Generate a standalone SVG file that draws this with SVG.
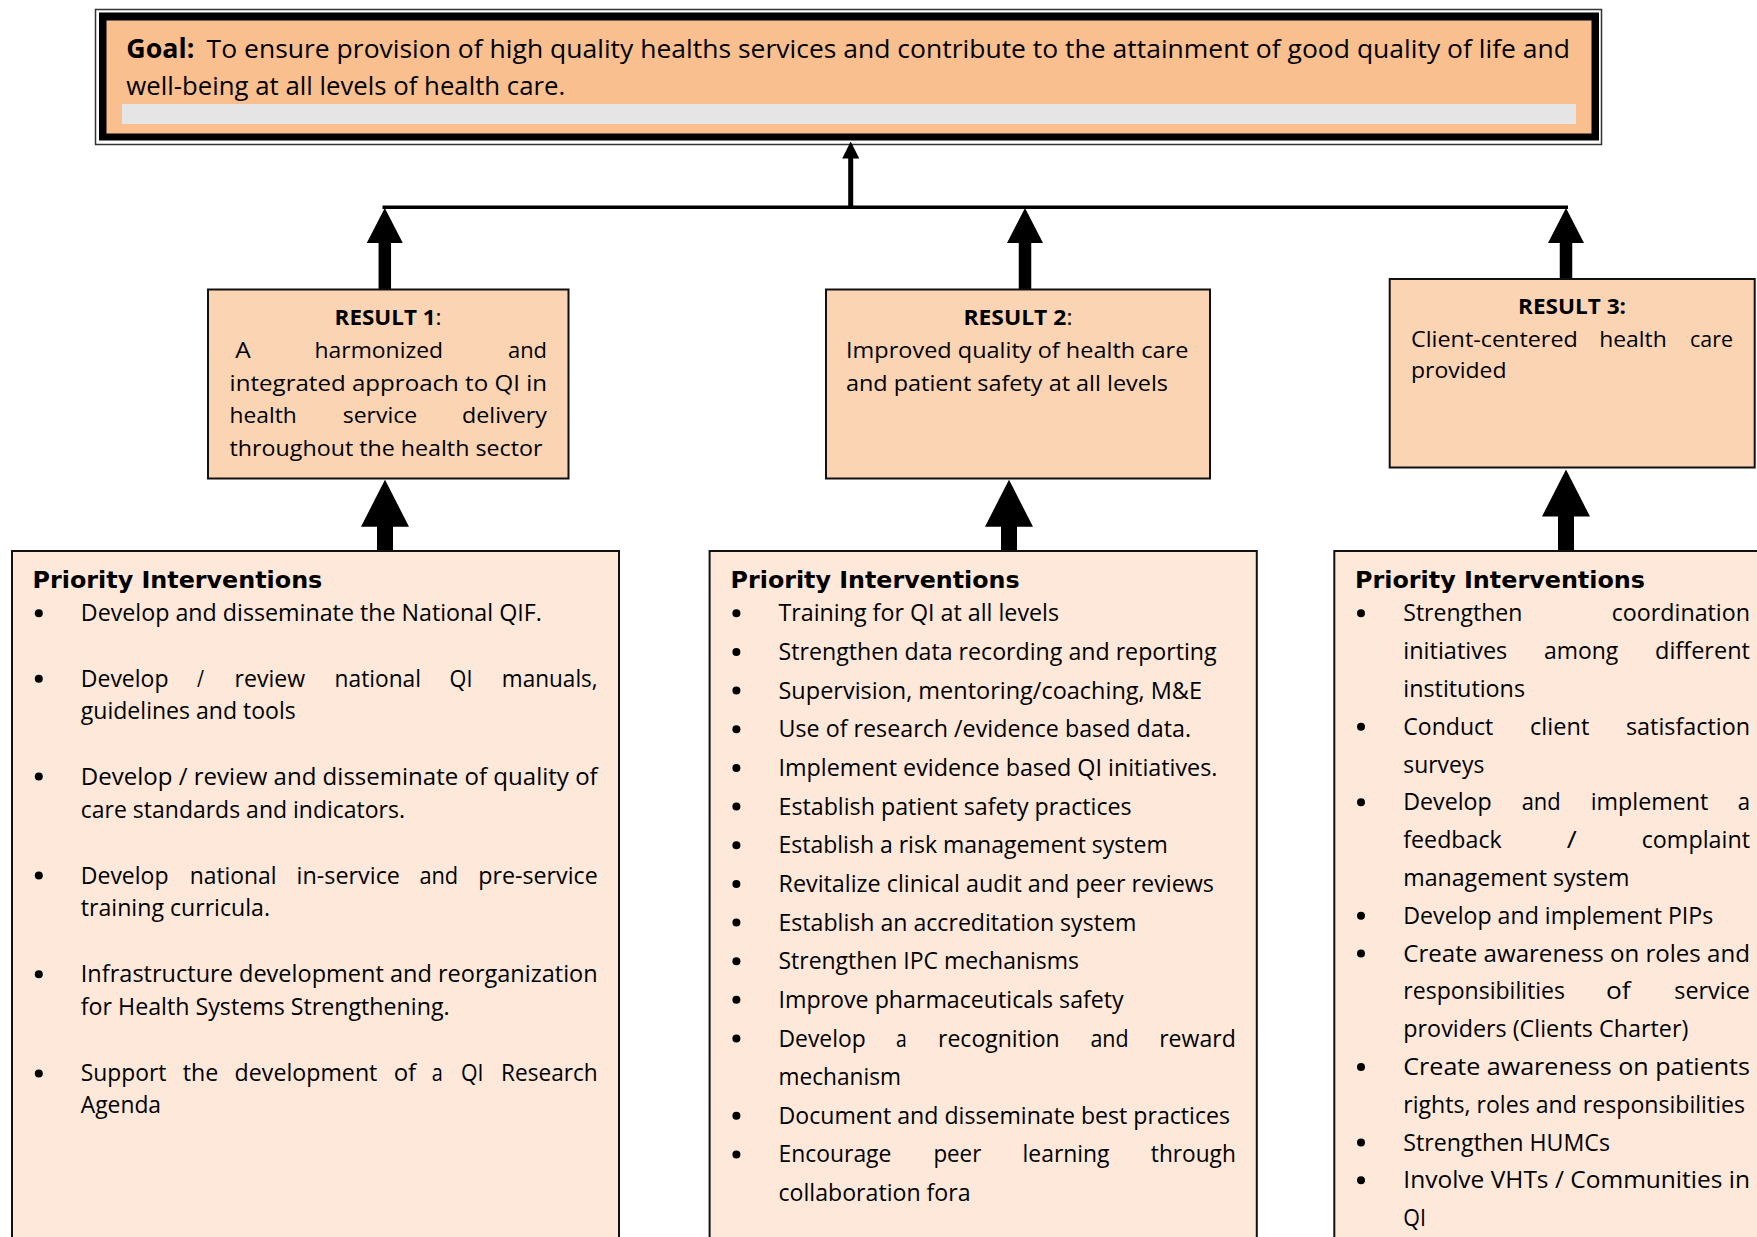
<svg xmlns="http://www.w3.org/2000/svg" width="1757" height="1237" viewBox="0 0 1757 1237">
<style>
text{font-family:"Open Sans","Liberation Sans",sans-serif;fill:#000}
.g{font-size:26px}
.r{font-size:22px}
.p{font-size:23px}
.b{font-weight:bold}
.hd{font-family:"DejaVu Sans","Liberation Sans",sans-serif;font-weight:bold;font-size:23px}
.res{fill:#FBD4B4;stroke:#111;stroke-width:2}
.pri{fill:#FDE8D9;stroke:#111;stroke-width:2}
.dot{fill:#000}
.sh{stroke:#000;fill:none}
</style>
<defs>
<marker id="hBig" markerUnits="userSpaceOnUse" markerWidth="47" markerHeight="48" viewBox="0 0 47 48" refX="1" refY="24" orient="auto"><path d="M0,0 L47,24 L0,48 z" fill="#000"/></marker>
<marker id="hMid" markerUnits="userSpaceOnUse" markerWidth="35" markerHeight="36" viewBox="0 0 35 36" refX="1" refY="18" orient="auto"><path d="M0,0 L35,18 L0,36 z" fill="#000"/></marker>
<marker id="hSm" markerUnits="userSpaceOnUse" markerWidth="17" markerHeight="17" viewBox="0 0 17 17" refX="1" refY="8.5" orient="auto"><path d="M0,0 L17,8.5 L0,17 z" fill="#000"/></marker>
</defs>
<rect width="1757" height="1237" fill="#fff"/>

<g id="goal">
<rect x="95.5" y="9.5" width="1506" height="135" fill="#fff" stroke="#333" stroke-width="1.5"/>
<rect x="99" y="12.5" width="1500" height="128" fill="#000"/>
<rect x="106.5" y="20.5" width="1485" height="113" fill="#F9BF8F"/>
<rect x="122" y="104" width="1454" height="20" fill="#E5E5E5"/>
<text class="g" y="58.3"><tspan x="126.3" class="b" textLength="68" lengthAdjust="spacingAndGlyphs">Goal:</tspan> <tspan x="206.6" textLength="1363.4" lengthAdjust="spacingAndGlyphs">To ensure provision of high quality healths services and contribute to the attainment of good quality of life and</tspan></text>
<text class="g" x="126.3" y="95" textLength="439" lengthAdjust="spacingAndGlyphs">well-being at all levels of health care.</text>
</g>

<g id="connectors">
<line class="sh" x1="382.5" y1="207.3" x2="1568" y2="207.3" stroke-width="3.5"/>
<line class="sh" x1="850.7" y1="207.3" x2="850.7" y2="157.5" stroke-width="5" marker-end="url(#hSm)"/>
<line class="sh" x1="384.8" y1="290" x2="384.8" y2="242" stroke-width="12.5" marker-end="url(#hMid)"/>
<line class="sh" x1="1025" y1="290" x2="1025" y2="242" stroke-width="12.5" marker-end="url(#hMid)"/>
<line class="sh" x1="1566" y1="279" x2="1566" y2="242" stroke-width="12.5" marker-end="url(#hMid)"/>
<line class="sh" x1="385" y1="551" x2="385" y2="525.7" stroke-width="16" marker-end="url(#hBig)"/>
<line class="sh" x1="1009" y1="551" x2="1009" y2="525.7" stroke-width="16" marker-end="url(#hBig)"/>
<line class="sh" x1="1566" y1="551" x2="1566" y2="515.5" stroke-width="16" marker-end="url(#hBig)"/>
</g>

<g id="result1">
<rect class="res" x="208" y="289.5" width="360.5" height="189"/>
<text class="r" y="325"><tspan x="334.6" class="b" textLength="101" lengthAdjust="spacingAndGlyphs">RESULT 1</tspan><tspan textLength="6" lengthAdjust="spacingAndGlyphs">:</tspan></text>
<text class="r" y="358.3"><tspan x="235.3" textLength="15.5" lengthAdjust="spacingAndGlyphs">A</tspan> <tspan x="314.6" textLength="128.4" lengthAdjust="spacingAndGlyphs">harmonized</tspan> <tspan x="508" textLength="39" lengthAdjust="spacingAndGlyphs">and</tspan></text>
<text class="r" x="229.6" y="390.5" textLength="317.4" lengthAdjust="spacingAndGlyphs">integrated approach to QI in</text>
<text class="r" y="423"><tspan x="229.6" textLength="67.2" lengthAdjust="spacingAndGlyphs">health</tspan> <tspan x="342.7" textLength="74.6" lengthAdjust="spacingAndGlyphs">service</tspan> <tspan x="462" textLength="85" lengthAdjust="spacingAndGlyphs">delivery</tspan></text>
<text class="r" x="229.6" y="455.5" textLength="312.8" lengthAdjust="spacingAndGlyphs">throughout the health sector</text>
</g>

<g id="result2">
<rect class="res" x="826" y="289.5" width="384" height="189"/>
<text class="r" y="325"><tspan x="963.4" class="b" textLength="103" lengthAdjust="spacingAndGlyphs">RESULT 2</tspan><tspan textLength="6" lengthAdjust="spacingAndGlyphs">:</tspan></text>
<text class="r" x="846" y="358.3" textLength="342.4" lengthAdjust="spacingAndGlyphs">Improved quality of health care</text>
<text class="r" x="846" y="390.5" textLength="322" lengthAdjust="spacingAndGlyphs">and patient safety at all levels</text>
</g>

<g id="result3">
<rect class="res" x="1389.7" y="279" width="365" height="188.5"/>
<text class="r b" x="1518" y="314.3" textLength="108" lengthAdjust="spacingAndGlyphs">RESULT 3:</text>
<text class="r" y="346.7"><tspan x="1411" textLength="166.8" lengthAdjust="spacingAndGlyphs">Client-centered</tspan> <tspan x="1599.2" textLength="67.6" lengthAdjust="spacingAndGlyphs">health</tspan> <tspan x="1690" textLength="43" lengthAdjust="spacingAndGlyphs">care</tspan></text>
<text class="r" x="1411" y="378.3" textLength="95.6" lengthAdjust="spacingAndGlyphs">provided</text>
</g>

<g id="priority1">
<rect class="pri" x="12" y="551" width="607" height="700"/>
<text class="hd" x="32.6" y="587.6" textLength="289.7" lengthAdjust="spacingAndGlyphs">Priority Interventions</text>
<circle class="dot" cx="38.8" cy="613.3" r="4"/>
<text class="p" x="80.8" y="621.3" textLength="461" lengthAdjust="spacingAndGlyphs">Develop and disseminate the National QIF.</text>
<circle class="dot" cx="38.8" cy="678.7" r="4"/>
<text class="p" y="686.7"><tspan x="80.8" textLength="87.7" lengthAdjust="spacingAndGlyphs">Develop</tspan> <tspan x="197" textLength="7" lengthAdjust="spacingAndGlyphs">/</tspan> <tspan x="234.6" textLength="70.6" lengthAdjust="spacingAndGlyphs">review</tspan> <tspan x="334.6" textLength="86.4" lengthAdjust="spacingAndGlyphs">national</tspan> <tspan x="449.6" textLength="22.9" lengthAdjust="spacingAndGlyphs">QI</tspan> <tspan x="501.8" textLength="95.9" lengthAdjust="spacingAndGlyphs">manuals,</tspan></text>
<text class="p" x="80.8" y="719" textLength="215" lengthAdjust="spacingAndGlyphs">guidelines and tools</text>
<circle class="dot" cx="38.8" cy="776.5" r="4"/>
<text class="p" x="80.8" y="784.5" textLength="516.9" lengthAdjust="spacingAndGlyphs">Develop / review and disseminate of quality of</text>
<text class="p" x="80.8" y="817.8" textLength="324.2" lengthAdjust="spacingAndGlyphs">care standards and indicators.</text>
<circle class="dot" cx="38.8" cy="875.6" r="4"/>
<text class="p" y="883.6"><tspan x="80.8" textLength="87.7" lengthAdjust="spacingAndGlyphs">Develop</tspan> <tspan x="189.7" textLength="86.9" lengthAdjust="spacingAndGlyphs">national</tspan> <tspan x="296.6" textLength="103.4" lengthAdjust="spacingAndGlyphs">in-service</tspan> <tspan x="419.4" textLength="38.8" lengthAdjust="spacingAndGlyphs">and</tspan> <tspan x="478.2" textLength="119.5" lengthAdjust="spacingAndGlyphs">pre-service</tspan></text>
<text class="p" x="80.8" y="915.6" textLength="189.2" lengthAdjust="spacingAndGlyphs">training curricula.</text>
<circle class="dot" cx="38.8" cy="974.3" r="4"/>
<text class="p" x="80.8" y="982.3" textLength="516.9" lengthAdjust="spacingAndGlyphs">Infrastructure development and reorganization</text>
<text class="p" x="80.8" y="1014.7" textLength="368.8" lengthAdjust="spacingAndGlyphs">for Health Systems Strengthening.</text>
<circle class="dot" cx="38.8" cy="1073.4" r="4"/>
<text class="p" y="1081.4"><tspan x="80.8" textLength="85.7" lengthAdjust="spacingAndGlyphs">Support</tspan> <tspan x="182.8" textLength="35.5" lengthAdjust="spacingAndGlyphs">the</tspan> <tspan x="234.6" textLength="142.8" lengthAdjust="spacingAndGlyphs">development</tspan> <tspan x="393.7" textLength="22.5" lengthAdjust="spacingAndGlyphs">of</tspan> <tspan x="431.7" textLength="11" lengthAdjust="spacingAndGlyphs">a</tspan> <tspan x="461" textLength="22.5" lengthAdjust="spacingAndGlyphs">QI</tspan> <tspan x="501" textLength="96.7" lengthAdjust="spacingAndGlyphs">Research</tspan></text>
<text class="p" x="80.8" y="1113.4" textLength="80.2" lengthAdjust="spacingAndGlyphs">Agenda</text>
</g>

<g id="priority2">
<rect class="pri" x="709.6" y="551" width="547.2" height="700"/>
<text class="hd" x="730.6" y="587.6" textLength="289" lengthAdjust="spacingAndGlyphs">Priority Interventions</text>
<circle class="dot" cx="736.4" cy="613.3" r="4"/>
<text class="p" x="778.5" y="621.3" textLength="280.5" lengthAdjust="spacingAndGlyphs">Training for QI at all levels</text>
<circle class="dot" cx="736.4" cy="652" r="4"/>
<text class="p" x="778.5" y="660" textLength="438.1" lengthAdjust="spacingAndGlyphs">Strengthen data recording and reporting</text>
<circle class="dot" cx="736.4" cy="690.6" r="4"/>
<text class="p" x="778.5" y="698.6" textLength="423.5" lengthAdjust="spacingAndGlyphs">Supervision, mentoring/coaching, M&amp;E</text>
<circle class="dot" cx="736.4" cy="729.3" r="4"/>
<text class="p" x="778.5" y="737.3" textLength="412.5" lengthAdjust="spacingAndGlyphs">Use of research /evidence based data.</text>
<circle class="dot" cx="736.4" cy="767.9" r="4"/>
<text class="p" x="778.5" y="775.9" textLength="438.9" lengthAdjust="spacingAndGlyphs">Implement evidence based QI initiatives.</text>
<circle class="dot" cx="736.4" cy="806.6" r="4"/>
<text class="p" x="778.5" y="814.6" textLength="353.2" lengthAdjust="spacingAndGlyphs">Establish patient safety practices</text>
<circle class="dot" cx="736.4" cy="845.2" r="4"/>
<text class="p" x="778.5" y="853.2" textLength="389.2" lengthAdjust="spacingAndGlyphs">Establish a risk management system</text>
<circle class="dot" cx="736.4" cy="883.9" r="4"/>
<text class="p" x="778.5" y="891.9" textLength="435.5" lengthAdjust="spacingAndGlyphs">Revitalize clinical audit and peer reviews</text>
<circle class="dot" cx="736.4" cy="922.5" r="4"/>
<text class="p" x="778.5" y="930.5" textLength="357.8" lengthAdjust="spacingAndGlyphs">Establish an accreditation system</text>
<circle class="dot" cx="736.4" cy="961.2" r="4"/>
<text class="p" x="778.5" y="969.2" textLength="300.4" lengthAdjust="spacingAndGlyphs">Strengthen IPC mechanisms</text>
<circle class="dot" cx="736.4" cy="999.8" r="4"/>
<text class="p" x="778.5" y="1007.8" textLength="345.2" lengthAdjust="spacingAndGlyphs">Improve pharmaceuticals safety</text>
<circle class="dot" cx="736.4" cy="1038.5" r="4"/>
<text class="p" y="1046.5"><tspan x="778.5" textLength="87.2" lengthAdjust="spacingAndGlyphs">Develop</tspan> <tspan x="896" textLength="10.7" lengthAdjust="spacingAndGlyphs">a</tspan> <tspan x="938" textLength="121.7" lengthAdjust="spacingAndGlyphs">recognition</tspan> <tspan x="1090.4" textLength="38.2" lengthAdjust="spacingAndGlyphs">and</tspan> <tspan x="1159.2" textLength="76.6" lengthAdjust="spacingAndGlyphs">reward</tspan></text>
<text class="p" x="778.5" y="1085.1" textLength="122.5" lengthAdjust="spacingAndGlyphs">mechanism</text>
<circle class="dot" cx="736.4" cy="1115.8" r="4"/>
<text class="p" x="778.5" y="1123.8" textLength="451.5" lengthAdjust="spacingAndGlyphs">Document and disseminate best practices</text>
<circle class="dot" cx="736.4" cy="1154.4" r="4"/>
<text class="p" y="1162.4"><tspan x="778.5" textLength="112.9" lengthAdjust="spacingAndGlyphs">Encourage</tspan> <tspan x="933.4" textLength="47.9" lengthAdjust="spacingAndGlyphs">peer</tspan> <tspan x="1022.6" textLength="86.9" lengthAdjust="spacingAndGlyphs">learning</tspan> <tspan x="1150.8" textLength="85" lengthAdjust="spacingAndGlyphs">through</tspan></text>
<text class="p" x="778.5" y="1201" textLength="192.1" lengthAdjust="spacingAndGlyphs">collaboration fora</text>
</g>

<g id="priority3">
<rect class="pri" x="1334.3" y="551" width="440" height="700"/>
<text class="hd" x="1355" y="587.6" textLength="290" lengthAdjust="spacingAndGlyphs">Priority Interventions</text>
<circle class="dot" cx="1361" cy="613.3" r="4"/>
<text class="p" y="621.3"><tspan x="1403.3" textLength="119" lengthAdjust="spacingAndGlyphs">Strengthen</tspan> <tspan x="1611.7" textLength="138.3" lengthAdjust="spacingAndGlyphs">coordination</tspan></text>
<text class="p" y="659.1"><tspan x="1403.3" textLength="104" lengthAdjust="spacingAndGlyphs">initiatives</tspan> <tspan x="1544" textLength="74.3" lengthAdjust="spacingAndGlyphs">among</tspan> <tspan x="1655" textLength="95" lengthAdjust="spacingAndGlyphs">different</tspan></text>
<text class="p" x="1403.3" y="696.9" textLength="121.7" lengthAdjust="spacingAndGlyphs">institutions</text>
<circle class="dot" cx="1361" cy="726.7" r="4"/>
<text class="p" y="734.7"><tspan x="1403.3" textLength="90" lengthAdjust="spacingAndGlyphs">Conduct</tspan> <tspan x="1530" textLength="59.3" lengthAdjust="spacingAndGlyphs">client</tspan> <tspan x="1626" textLength="124" lengthAdjust="spacingAndGlyphs">satisfaction</tspan></text>
<text class="p" x="1403.3" y="772.5" textLength="81" lengthAdjust="spacingAndGlyphs">surveys</text>
<circle class="dot" cx="1361" cy="802.3" r="4"/>
<text class="p" y="810.3"><tspan x="1403.3" textLength="88.4" lengthAdjust="spacingAndGlyphs">Develop</tspan> <tspan x="1521.7" textLength="39" lengthAdjust="spacingAndGlyphs">and</tspan> <tspan x="1590.7" textLength="117.6" lengthAdjust="spacingAndGlyphs">implement</tspan> <tspan x="1737.7" textLength="12.3" lengthAdjust="spacingAndGlyphs">a</tspan></text>
<text class="p" y="848.1"><tspan x="1403.3" textLength="98.4" lengthAdjust="spacingAndGlyphs">feedback</tspan> <tspan x="1566.7" textLength="10" lengthAdjust="spacingAndGlyphs">/</tspan> <tspan x="1641.7" textLength="108.3" lengthAdjust="spacingAndGlyphs">complaint</tspan></text>
<text class="p" x="1403.3" y="885.9" textLength="226" lengthAdjust="spacingAndGlyphs">management system</text>
<circle class="dot" cx="1361" cy="915.7" r="4"/>
<text class="p" x="1403.3" y="923.7" textLength="310" lengthAdjust="spacingAndGlyphs">Develop and implement PIPs</text>
<circle class="dot" cx="1361" cy="953.5" r="4"/>
<text class="p" x="1403.3" y="961.5" textLength="346.7" lengthAdjust="spacingAndGlyphs">Create awareness on roles and</text>
<text class="p" y="999.3"><tspan x="1403.3" textLength="161.7" lengthAdjust="spacingAndGlyphs">responsibilities</tspan> <tspan x="1606" textLength="24.7" lengthAdjust="spacingAndGlyphs">of</tspan> <tspan x="1674.3" textLength="75.7" lengthAdjust="spacingAndGlyphs">service</tspan></text>
<text class="p" x="1403.3" y="1037.1" textLength="285" lengthAdjust="spacingAndGlyphs">providers (Clients Charter)</text>
<circle class="dot" cx="1361" cy="1066.9" r="4"/>
<text class="p" x="1403.3" y="1074.9" textLength="346.7" lengthAdjust="spacingAndGlyphs">Create awareness on patients</text>
<text class="p" x="1403.3" y="1112.7" textLength="341.7" lengthAdjust="spacingAndGlyphs">rights, roles and responsibilities</text>
<circle class="dot" cx="1361" cy="1142.5" r="4"/>
<text class="p" x="1403.3" y="1150.5" textLength="206.7" lengthAdjust="spacingAndGlyphs">Strengthen HUMCs</text>
<circle class="dot" cx="1361" cy="1180.3" r="4"/>
<text class="p" x="1403.3" y="1188.3" textLength="346.7" lengthAdjust="spacingAndGlyphs">Involve VHTs / Communities in</text>
<text class="p" x="1403.3" y="1226.1" textLength="22.7" lengthAdjust="spacingAndGlyphs">QI</text>
</g>
</svg>
